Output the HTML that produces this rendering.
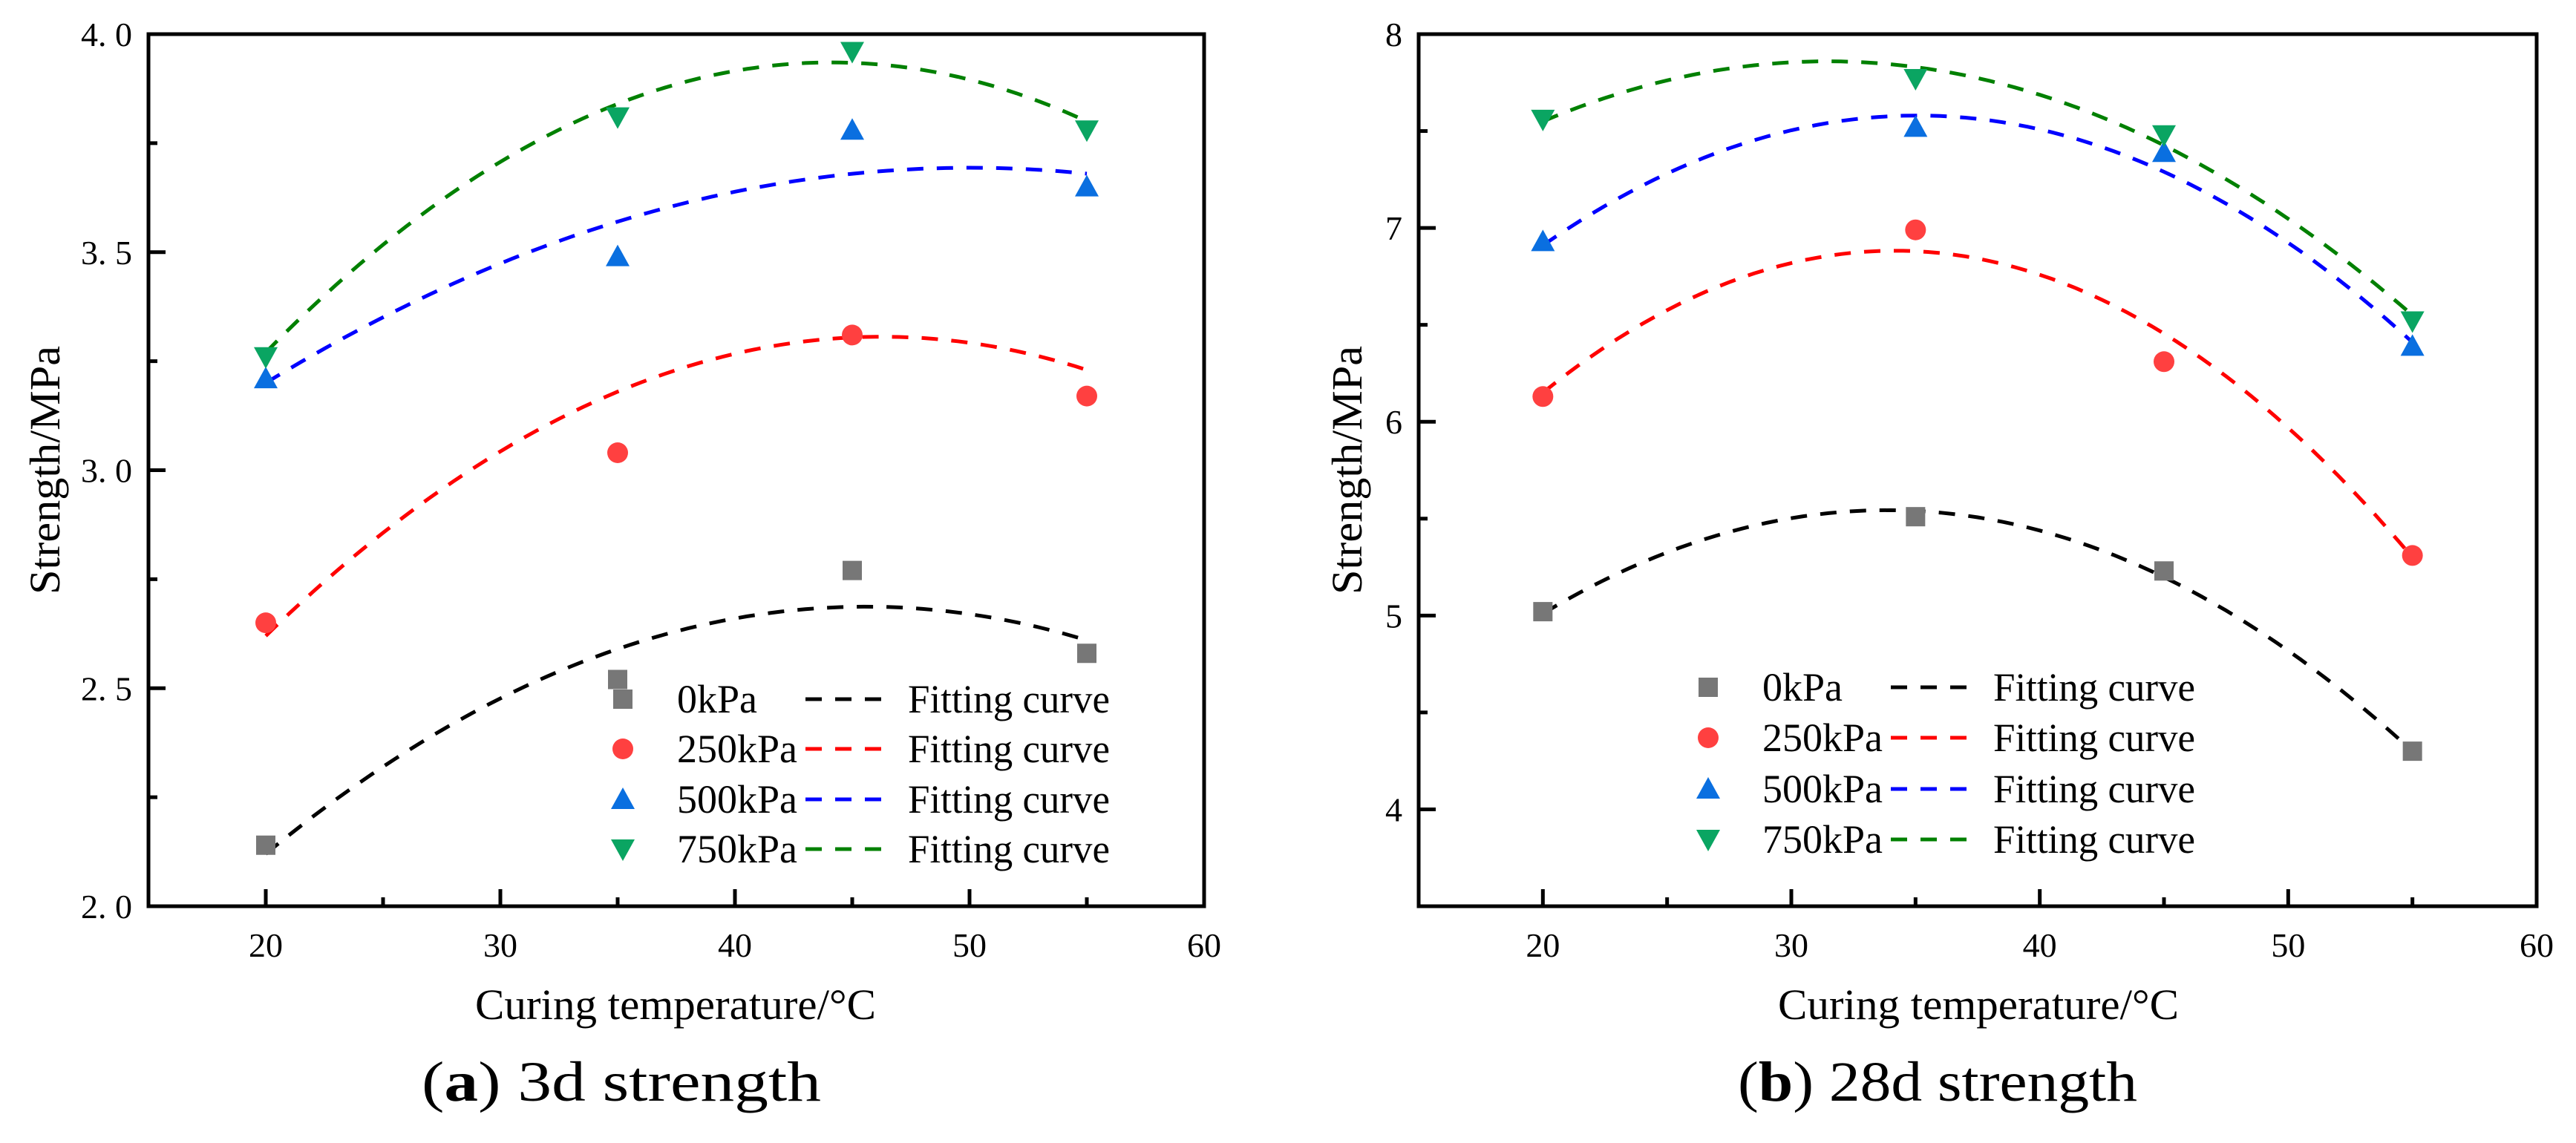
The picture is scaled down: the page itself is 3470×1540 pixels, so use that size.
<!DOCTYPE html>
<html><head><meta charset="utf-8"><style>
html,body{margin:0;padding:0;background:#fff;}
svg, svg text{font-family:"Liberation Serif","DejaVu Serif","Times New Roman",serif;}
</style></head><body>
<svg id="fig" width="3470" height="1535" viewBox="0 0 3470 1535" xmlns="http://www.w3.org/2000/svg"></svg>
<script>
const xCats = [20, 35, 45, 55];
const seriesNames = ['0kPa', '250kPa', '500kPa', '750kPa'];
// panel a (3d)
const a0 = [2.14, 2.52, 2.77, 2.58];
const a250 = [2.65, 3.04, 3.31, 3.17];
const a500 = [3.21, 3.49, 3.78, 3.65];
const a750 = [3.26, 3.81, 3.96, 3.78];
// fit curve anchor values at x = 20, 35, 55
const fitX = [20, 35, 55];
const aFit0 = [2.12, 2.59, 2.61];
const aFit250 = [2.62, 3.18, 3.23];
const aFit500 = [3.20, 3.57, 3.68];
const aFit750 = [3.27, 3.84, 3.80];
// panel b (28d)
const b0 = [5.02, 5.51, 5.23, 4.30];
const b250 = [6.13, 6.99, 6.31, 5.31];
const b500 = [6.93, 7.52, 7.39, 6.39];
const b750 = [7.56, 7.77, 7.48, 6.52];
const bFit0 = [5.01, 5.54, 4.30];
const bFit250 = [6.15, 6.88, 5.30];
const bFit500 = [6.91, 7.58, 6.41];
const bFit750 = [7.55, 7.83, 6.55];
const xTicks = [20, 30, 40, 50, 60];
const aYTicks = ['2.0', '2.5', '3.0', '3.5', '4.0'];
const bYTicks = ['4', '5', '6', '7', '8'];

const NS = 'http://www.w3.org/2000/svg';
const svg = document.getElementById('fig');
function el(tag, attrs, parent) {
  const e = document.createElementNS(NS, tag);
  for (const k in attrs) e.setAttribute(k, attrs[k]);
  if (tag === 'text') e.style.fontFamily = '"Liberation Serif", "DejaVu Serif", serif';
  (parent || svg).appendChild(e);
  return e;
}
const markerColors = ['#777777', '#ff4040', '#0a6fe0', '#0aa562'];
const lineColors = ['#000000', '#ff0000', '#0000ff', '#008000'];

function marker(g, i, cx, cy) {
  let m;
  if (i === 0) m = el('rect', {x: cx - 13, y: cy - 13, width: 26, height: 26, fill: markerColors[0]}, g);
  else if (i === 1) m = el('circle', {cx: cx, cy: cy, r: 14, fill: markerColors[1]}, g);
  else if (i === 2) m = el('polygon', {points: `${cx},${cy-16} ${cx+16},${cy+13} ${cx-16},${cy+13}`, fill: markerColors[2]}, g);
  else m = el('polygon', {points: `${cx},${cy+16} ${cx+16},${cy-13} ${cx-16},${cy-13}`, fill: markerColors[3]}, g);
  return m;
}
function quad(xs, ys, x) {
  let s = 0;
  for (let i = 0; i < 3; i++) {
    let t = ys[i];
    for (let j = 0; j < 3; j++) if (j !== i) t *= (x - xs[j]) / (xs[i] - xs[j]);
    s += t;
  }
  return s;
}

function panel(cfg) {
  const g = el('g', {});
  
  
  const L = cfg.left, R = cfg.right, T = 46, B = 1221;
  const xs = v => L + (v - 15) / 45 * (R - L);
  const ys = v => B - (v - cfg.ymin) / (cfg.ymax - cfg.ymin) * (B - T);
  for (let v = 25; v <= 55; v += 10) {
    const t = el('line', {x1: xs(v), x2: xs(v), y1: B, y2: B - 12, stroke: '#000', 'stroke-width': 5}, g);
    
    
  }
  xTicks.forEach(v => {
    const t = el('line', {x1: xs(v), x2: xs(v), y1: B, y2: B - 23, stroke: '#000', 'stroke-width': 5}, g);
    
    
    const lb = el('text', {x: xs(v), y: 1289, 'font-size': 46, 'text-anchor': 'middle'}, g);
    lb.textContent = v;
    
    
  });
  cfg.yTicks.forEach((s, i) => {
    const v = parseFloat(s);
    const t = el('line', {x1: L, x2: L + 23, y1: ys(v), y2: ys(v), stroke: '#000', 'stroke-width': 5}, g);
    
    
    const mv = v + cfg.ystep / 2;
    if (mv < cfg.ymax) {
      const m = el('line', {x1: L, x2: L + 12, y1: ys(mv), y2: ys(mv), stroke: '#000', 'stroke-width': 5}, g);
      
      
    }
    const lb = el('text', {x: L - 22, y: ys(v) + 16, 'font-size': 46, 'text-anchor': 'end'}, g);
    lb.textContent = s.replace('.', '. ');
    
    
  });
  const box = el('rect', {x: L, y: T, width: R - L, height: B - T, fill: 'none', stroke: '#000', 'stroke-width': 5}, g);
  
  
  cfg.fits.forEach((f, i) => {
    let d = '';
    for (let x = 20; x <= 55.001; x += 0.5) d += (d ? 'L' : 'M') + xs(x).toFixed(1) + ',' + ys(quad(fitX, f, x)).toFixed(1);
    const p = el('path', {d: d, fill: 'none', stroke: lineColors[i], 'stroke-width': 5, 'stroke-dasharray': '22 18'}, g);
    
    
  });
  cfg.data.forEach((arr, i) => {
    arr.forEach((v, k) => {
      const m = marker(g, i, xs(xCats[k]), ys(v));
      
      
    });
  });
  const lg = el('g', {}, g);
  
  
  seriesNames.forEach((n, i) => {
    const y = cfg.legRows[i];
    const m = marker(lg, i, cfg.legX, y);
    
    
    const t = el('text', {x: cfg.legX + 73, y: y + 18, 'font-size': 54}, lg);
    t.textContent = n;
    
    
    const ln = el('line', {x1: cfg.legX + 246, x2: cfg.legX + 357, y1: y, y2: y, stroke: lineColors[i], 'stroke-width': 5, 'stroke-dasharray': '22 18'}, lg);
    
    
    const ft = el('text', {x: cfg.legX + 384, y: y + 18, 'font-size': 54, textLength: 272, lengthAdjust: 'spacingAndGlyphs'}, lg);
    ft.textContent = 'Fitting curve';
    
    
  });
  const yt = el('text', {x: 0, y: 0, 'font-size': 58, 'text-anchor': 'middle', transform: `translate(${cfg.yTitleX + 20},${(T + B) / 2}) rotate(-90)`, textLength: 335, lengthAdjust: 'spacingAndGlyphs'}, g);
  yt.textContent = 'Strength/MPa';
  
  
  const xt = el('text', {x: cfg.xTitleX, y: 1373, 'font-size': 58, 'text-anchor': 'middle', textLength: 540, lengthAdjust: 'spacingAndGlyphs'}, g);
  xt.textContent = 'Curing temperature/°C';
  
  
  const cp = el('text', {x: cfg.capX, y: 1483, 'font-size': 76, 'text-anchor': 'middle', textLength: 538, lengthAdjust: 'spacingAndGlyphs'}, g);
  const b = document.createElementNS(NS, 'tspan');
  b.setAttribute('font-weight', 'bold');
  b.textContent = cfg.letter;
  cp.appendChild(document.createTextNode('('));
  cp.appendChild(b);
  cp.appendChild(document.createTextNode(') ' + cfg.caption));
  
  
}

panel({name: 'panel-a-3d-strength', left: 200, right: 1622, ymin: 2.0, ymax: 4.0, ystep: 0.5, yTicks: aYTicks,
  data: [a0, a250, a500, a750], fits: [aFit0, aFit250, aFit500, aFit750],
  legX: 839, legRows: [942, 1009, 1077, 1144], yTitleX: 60, xTitleX: 910, capX: 837, letter: 'a', caption: '3d strength'});
panel({name: 'panel-b-28d-strength', left: 1911, right: 3417, ymin: 3.5, ymax: 8.0, ystep: 1, yTicks: bYTicks,
  data: [b0, b250, b500, b750], fits: [bFit0, bFit250, bFit500, bFit750],
  legX: 2301, legRows: [926, 994, 1063, 1131], yTitleX: 1814, xTitleX: 2665, capX: 2610, letter: 'b', caption: '28d strength'});
</script>
</body></html>
